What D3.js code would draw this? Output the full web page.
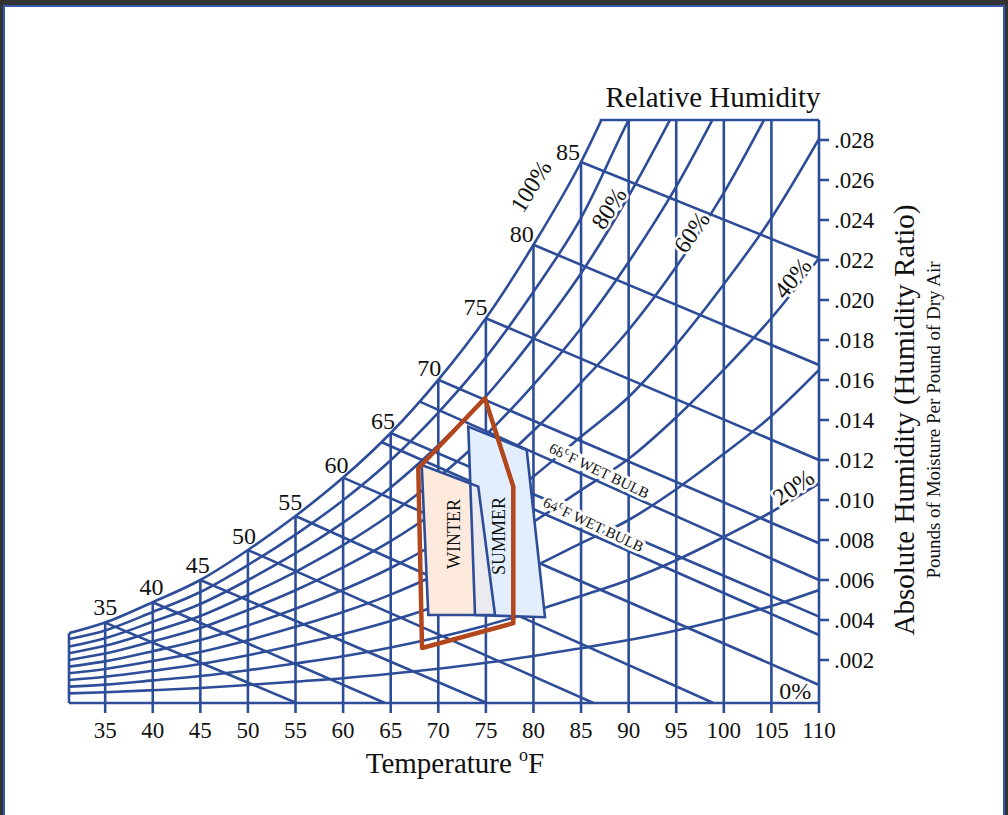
<!DOCTYPE html>
<html>
<head>
<meta charset="utf-8">
<script src="https://cdn.jsdelivr.net/npm/d3@7"></script>
<style>
  html, body { margin: 0; padding: 0; background: #333; }
  svg { display: block; }
  text { font-family: "Liberation Serif", "Times New Roman", serif; fill: #111; }
</style>
</head>
<body>
<svg id="chart" width="1008" height="815"></svg>
<script>
// Dry-bulb temperatures (°F) at which the humidity curves are tabulated
const tempGrid = [31.2, 35, 40, 45, 50, 55, 60, 65, 70, 75, 80, 85, 90, 95, 100, 105, 110];

// Humidity ratio (lb moisture / lb dry air) along each relative-humidity curve
const rh100 = [0.00334, 0.00387, 0.00489, 0.0060, 0.0075, 0.0092, 0.01112, 0.01335, 0.01601, 0.01909, 0.02276, 0.0269, 0.0320];
const rh90  = [0.00305, 0.00348, 0.0044, 0.0054, 0.00675, 0.00827, 0.00999, 0.01199, 0.01437, 0.01713, 0.02041, 0.02411, 0.0290, 0.0334];
const rh80  = [0.00267, 0.00309, 0.00391, 0.0048, 0.0060, 0.00734, 0.00887, 0.01063, 0.01274, 0.01518, 0.01808, 0.02134, 0.0252, 0.0296];
const rh70  = [0.00234, 0.00271, 0.00342, 0.0042, 0.00525, 0.00641, 0.00774, 0.00929, 0.01112, 0.01325, 0.01576, 0.01859, 0.0219, 0.02567, 0.0301];
const rh60  = [0.0020, 0.00232, 0.00293, 0.0036, 0.0045, 0.00549, 0.00663, 0.00794, 0.00951, 0.01132, 0.01346, 0.01587, 0.0185, 0.02166, 0.02536, 0.0297];
const rh50  = [0.00167, 0.00193, 0.00244, 0.0030, 0.00373, 0.00456, 0.00551, 0.0066, 0.0079, 0.0094, 0.01118, 0.01317, 0.01515, 0.01777, 0.02079, 0.0241, 0.02805];
const rh40  = [0.00134, 0.00155, 0.00195, 0.0024, 0.00299, 0.00366, 0.0044, 0.00527, 0.00631, 0.0075, 0.00891, 0.01049, 0.01206, 0.01414, 0.01652, 0.0191, 0.02209];
const rh30  = [0.0010, 0.00116, 0.00146, 0.0018, 0.00224, 0.00275, 0.0033, 0.00395, 0.00472, 0.00561, 0.00666, 0.00784, 0.0090, 0.01054, 0.01231, 0.0142, 0.0165];
const rh20  = [0.00067, 0.00077, 0.00098, 0.0012, 0.00149, 0.00183, 0.00219, 0.00263, 0.00314, 0.00373, 0.00443, 0.0052, 0.0060, 0.00699, 0.00815, 0.0094, 0.01083];
const rh10  = [0.00033, 0.00039, 0.00049, 0.0006, 0.00075, 0.00092, 0.00109, 0.00131, 0.00156, 0.00186, 0.0022, 0.00259, 0.0030, 0.00348, 0.00405, 0.0047, 0.0055];

// Axis ticks
const dryBulbTicks = [35, 40, 45, 50, 55, 60, 65, 70, 75, 80, 85, 90, 95, 100, 105, 110];
const humidityTicks = [0.002, 0.004, 0.006, 0.008, 0.010, 0.012, 0.014, 0.016, 0.018, 0.020, 0.022, 0.024, 0.026, 0.028];

// Saturation temperatures labelled on the 100% curve
const satLabelTemps = [35, 40, 45, 50, 55, 60, 65, 70, 75, 80, 85];

// Sloping constant-wet-bulb lines: start on saturation, end at bottom edge or right edge
const slopeFromT = [35, 40, 45, 50, 55, 60, 65, 70, 75, 80, 85];
const slopeToT   = [55.1, 64.4, 75.1, 86.3, 98.9, 110, 110, 110, 110, 110, 110];
const slopeToW   = [-0.00015, -0.00015, -0.00015, -0.00015, -0.00015, 0.00075, 0.00417, 0.00784, 0.0120, 0.01675, 0.02209];

// Named wet-bulb lines
const wetBulbNames  = ["68", "64"];
const wetBulbFromT  = [68, 64];
const wetBulbFromW  = [0.01493, 0.0129];
const wetBulbToW    = [0.0060, 0.00325];
const wetBulbLabelT = [86.45, 85.85];

// Relative humidity labels: text, temperature, humidity ratio, angle
const rhLabelText  = ["100%", "80%", "60%", "40%", "20%", "0%"];
const rhLabelT     = [79.7, 87.9, 96.6, 107.2, 107.3, 107.5];
const rhLabelW     = [0.0257, 0.0246, 0.0234, 0.0211, 0.01065, 0.00045];
const rhLabelAngle = [-58, -57, -55, -50, -35, 0];

// Seasonal zones (temperature °F, humidity ratio)
const winterZone = [[68.26, 0.01175], [74.2, 0.01067], [75.96, 0.00425], [68.95, 0.00425]];
const summerZone = [[73.15, 0.01367], [79.29, 0.0125], [81.21, 0.00414], [73.86, 0.00425]];
const outerRange = [[74.9, 0.01509], [77.88, 0.01067], [77.88, 0.00384], [68.29, 0.0026], [67.9, 0.01159]];

// ---------------------------------------------------------------
const svg = d3.select("#chart");
const blue = "#2d4d99";
const lw = 2.6;

const tMin = 31.2, tMax = 110, wMin = -0.00015, wMax = 0.029;
const x = d3.scaleLinear().domain([tMin, tMax]).range([69, 819]);
const y = d3.scaleLinear().domain([wMin, wMax]).range([703, 120]);

// page background and frame
svg.append("rect").attr("width", 1008).attr("height", 815).attr("fill", "#333");
svg.append("rect").attr("x", 4).attr("y", 6).attr("width", 1000).attr("height", 812)
  .attr("fill", "#fff").attr("stroke", "#3558a8").attr("stroke-width", 2);

const defs = svg.append("defs");
defs.append("clipPath").attr("id", "plot-clip").append("rect")
  .attr("x", x(tMin)).attr("y", y(wMax)).attr("width", x(tMax) - x(tMin)).attr("height", y(wMin) - y(wMax));

const satAt = T => rh100[tempGrid.indexOf(T)];

const grid = svg.append("g").attr("clip-path", "url(#plot-clip)")
  .attr("fill", "none").attr("stroke", blue).attr("stroke-width", lw);

// relative humidity curves
const curve = d3.line().x(d => x(d[0])).y(d => y(d[1])).curve(d3.curveMonotoneX);
[rh100, rh90, rh80, rh70, rh60, rh50, rh40, rh30, rh20, rh10].forEach(vals => {
  grid.append("path").attr("d", curve(vals.map((w, i) => [tempGrid[i], w])));
});

// sloping wet-bulb lines
const seg = d3.line().x(d => x(d[0])).y(d => y(d[1]));
slopeFromT.forEach((t, i) => {
  grid.append("path").attr("d", seg([[t, satAt(t)], [slopeToT[i], slopeToW[i]]]));
});
wetBulbFromT.forEach((t, i) => {
  grid.append("path").attr("d", seg([[t, wetBulbFromW[i]], [tMax, wetBulbToW[i]]]));
});

// frame and dry-bulb verticals (with tick stubs below)
const frame = svg.append("g").attr("fill", "none").attr("stroke", blue).attr("stroke-width", lw);
dryBulbTicks.forEach(t => {
  const top = t <= 85 ? y(satAt(t)) : y(wMax);
  frame.append("line").attr("x1", x(t)).attr("x2", x(t)).attr("y1", y(wMin) + 10).attr("y2", top);
});
frame.append("line").attr("x1", x(tMin)).attr("x2", x(tMax)).attr("y1", y(wMin)).attr("y2", y(wMin));
frame.append("line").attr("x1", x(tMin)).attr("x2", x(tMin)).attr("y1", y(wMin)).attr("y2", y(rh100[0]));
// top edge starts where saturation meets the top
const satTop = d3.scaleLinear().domain([rh100[11], rh100[12]]).range([85, 90])(wMax);
frame.append("line").attr("x1", x(satTop) - 1).attr("x2", x(tMax)).attr("y1", y(wMax)).attr("y2", y(wMax));
humidityTicks.forEach(w => {
  frame.append("line").attr("x1", x(tMax)).attr("x2", x(tMax) + 10).attr("y1", y(w)).attr("y2", y(w));
});

// halo helper for labels sitting on lines
function halo(sel, width) {
  return sel.attr("stroke", "#fff").attr("stroke-width", width).attr("paint-order", "stroke").attr("stroke-linejoin", "round");
}

// relative humidity labels
rhLabelText.forEach((txt, i) => {
  const t = svg.append("text")
    .attr("transform", `translate(${x(rhLabelT[i])},${y(rhLabelW[i])}) rotate(${rhLabelAngle[i]})`)
    .attr("text-anchor", "middle").attr("dy", "0.35em")
    .attr("font-size", 24).text(txt);
  if (i > 0) halo(t, 5);
});

// saturation temperature labels
satLabelTemps.forEach(t => {
  const dx = 12 - (t - 35) * 0.26;
  const dy = 8 - (t - 35) * 0.12;
  svg.append("text").attr("x", x(t) + dx).attr("y", y(satAt(t)) - dy)
    .attr("text-anchor", "end").attr("font-size", 24).text(t);
});

// seasonal zones
const zone = d3.line().x(d => x(d[0])).y(d => y(d[1]));
const closed = pts => zone(pts) + "Z";
defs.append("clipPath").attr("id", "summer-clip").append("path").attr("d", closed(summerZone));
svg.append("path").attr("d", closed(winterZone)).attr("fill", "#fdeadd");
svg.append("path").attr("d", closed(summerZone)).attr("fill", "#e3eefc");
svg.append("path").attr("d", closed(winterZone)).attr("fill", "#ebebef").attr("clip-path", "url(#summer-clip)");
svg.append("path").attr("d", closed(winterZone)).attr("fill", "none").attr("stroke", blue).attr("stroke-width", lw);
svg.append("path").attr("d", closed(summerZone)).attr("fill", "none").attr("stroke", blue).attr("stroke-width", lw);
svg.append("path").attr("d", closed(outerRange)).attr("fill", "none").attr("stroke", "#b2461c")
  .attr("stroke-width", 4.5).attr("stroke-linejoin", "round");

svg.append("text").attr("transform", `translate(${x(71.7) + 6},${y(0.0083)}) rotate(-90)`)
  .attr("text-anchor", "middle").attr("font-size", 18).text("WINTER");
svg.append("text").attr("transform", `translate(${x(76.4) + 6},${y(0.0082)}) rotate(-90)`)
  .attr("text-anchor", "middle").attr("font-size", 18).text("SUMMER");

// wet-bulb labels, set just above their lines
wetBulbNames.forEach((nm, i) => {
  const x0 = x(wetBulbFromT[i]), y0 = y(wetBulbFromW[i]);
  const x1 = x(tMax), y1 = y(wetBulbToW[i]);
  const ang = Math.atan2(y1 - y0, x1 - x0) * 180 / Math.PI;
  const lt = wetBulbLabelT[i];
  const ly = y0 + (x(lt) - x0) * (y1 - y0) / (x1 - x0);
  const t = svg.append("text")
    .attr("transform", `translate(${x(lt)},${ly}) rotate(${ang + 1.5})`)
    .attr("text-anchor", "middle").attr("y", -5).attr("font-size", 15);
  t.append("tspan").text(nm);
  t.append("tspan").attr("dy", -6).attr("font-size", 12).text("o");
  t.append("tspan").attr("dy", 6).text("F WET BULB");
  halo(t, 6);
});

// axis tick labels
dryBulbTicks.forEach(t => {
  svg.append("text").attr("x", x(t)).attr("y", 738).attr("text-anchor", "middle").attr("font-size", 23).text(t);
});
humidityTicks.forEach(w => {
  svg.append("text").attr("x", x(tMax) + 15).attr("y", y(w) + 8).attr("font-size", 23)
    .text(d3.format(".3f")(w).replace(/^0/, ""));
});

// titles
svg.append("text").attr("x", 713).attr("y", 107).attr("text-anchor", "middle").attr("font-size", 29).text("Relative Humidity");
const tt = svg.append("text").attr("x", 455).attr("y", 773).attr("text-anchor", "middle").attr("font-size", 29);
tt.append("tspan").text("Temperature ");
tt.append("tspan").attr("dy", -12).attr("font-size", 18).text("o");
tt.append("tspan").attr("dy", 12).text("F");
svg.append("text").attr("transform", "translate(914,420) rotate(-90)").attr("text-anchor", "middle")
  .attr("font-size", 29).text("Absolute Humidity (Humidity Ratio)");
svg.append("text").attr("transform", "translate(940,420) rotate(-90)").attr("text-anchor", "middle")
  .attr("font-size", 19).text("Pounds of Moisture Per Pound of Dry Air");
</script>
</body>
</html>
